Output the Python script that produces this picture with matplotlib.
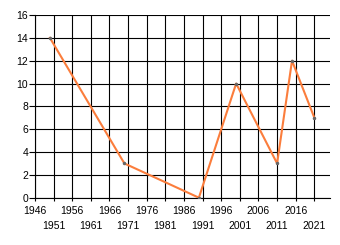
import matplotlib
matplotlib.use("Agg")
import matplotlib.pyplot as plt

years = [1950, 1970, 1990, 2000, 2011, 2015, 2021]
values = [14, 3, 0, 10, 3, 12, 7]
row1_ticks = [1946, 1956, 1966, 1976, 1986, 1996, 2006, 2016]
row2_ticks = [1951, 1961, 1971, 1981, 1991, 2001, 2011, 2021]
y_ticks = [0, 2, 4, 6, 8, 10, 12, 14, 16]

plt.rcParams['font.family'] = ['Liberation Sans', 'DejaVu Sans']
plt.rcParams['font.size'] = 7.5

fig = plt.figure(figsize=(3.4, 2.45), dpi=100)
ax = fig.add_axes([35 / 340, 1 - 197.7 / 245, 295 / 340, 182.7 / 245])

ax.plot(years, values, color="#fb7d3c", linewidth=1.5, zorder=3,
        marker="o", markersize=1.5, markerfacecolor="#666666", markeredgecolor="#666666")

ax.set_xlim(1946, 2025.2)
ax.set_ylim(0, 16)
ax.set_yticks(y_ticks)
ax.set_xticks(row1_ticks)
ax.set_xticks(row2_ticks, minor=True)
ax.set_xticklabels([str(t) for t in row1_ticks])
ax.set_xticklabels([str(t) for t in row2_ticks], minor=True)

ax.tick_params(axis='x', which='major', length=2, width=0.8, pad=4, color='black')
ax.tick_params(axis='x', which='minor', length=2, width=0.8, pad=15, color='black')
ax.tick_params(axis='y', length=4, width=0.8, pad=1, color='black')

ax.grid(True, which='both', color='black', linewidth=0.8)
ax.set_axisbelow(True)
for s in ['top', 'right']:
    ax.spines[s].set_visible(False)
for s in ['left', 'bottom']:
    ax.spines[s].set_linewidth(0.8)

fig.savefig("out.png", dpi=100)
